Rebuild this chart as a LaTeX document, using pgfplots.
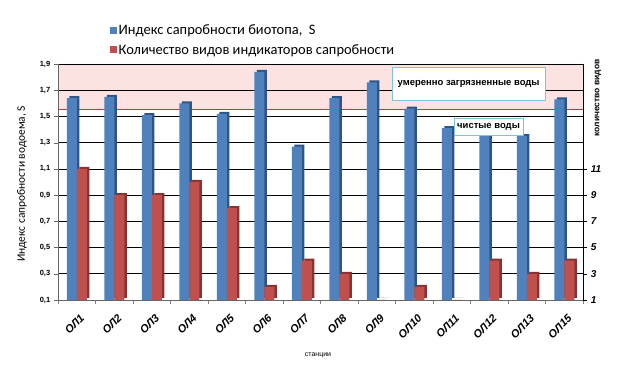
\documentclass[border=0pt]{standalone}
\usepackage{pgfplots}
\pgfplotsset{compat=1.18}
\usepackage{fontspec}
\setmainfont{Liberation Sans}
\newfontfamily\calibri{Carlito}
\definecolor{sblue}{HTML}{4F81BD}
\definecolor{sbluedk}{HTML}{2F5587}
\definecolor{sred}{HTML}{C0504D}
\definecolor{sreddk}{HTML}{8A3230}
\definecolor{bandpink}{HTML}{FDE2E2}
\definecolor{boxblue}{HTML}{7EC4D8}

\pgfplotstableread{
x S
0 1.64
1 1.65
2 1.51
3 1.60
4 1.52
5 1.84
6 1.27
7 1.64
8 1.76
9 1.56
10 1.41
11 1.35
12 1.35
13 1.63
}\sapr
\pgfplotstableread{
x N
0 11
1 9
2 9
3 10
4 8
5 2
6 4
7 3
8 1
9 2
10 1
11 4
12 3
13 4
}\vidy

\begin{document}
\begin{tikzpicture}
\path (0,0) rectangle (626bp,367bp);
% background band
\begin{axis}[
  at={(58bp,67bp)}, anchor=south west,
  scale only axis, width=525bp, height=236bp,
  xmin=-0.5, xmax=13.5, ymin=0.1, ymax=1.9,
  hide axis,
]
\addplot[fill=bandpink, draw=none] coordinates {(-0.5,1.55) (13.5,1.55) (13.5,1.9) (-0.5,1.9)} \closedcycle;
\addplot[sred!85!black, line width=0.8pt] coordinates {(-0.5,1.55) (13.5,1.55)};
\end{axis}
\begin{axis}[
  at={(58bp,67bp)}, anchor=south west,
  scale only axis, width=525bp, height=236bp,
  xmin=-0.5, xmax=13.5, ymin=0.1, ymax=1.9,
  axis y line*=left, axis x line*=bottom,
  axis line style={black!60},
  xtick={0,...,13},
  xticklabels={ОЛ1,ОЛ2,ОЛ3,ОЛ4,ОЛ5,ОЛ6,ОЛ7,ОЛ8,ОЛ9,ОЛ10,ОЛ11,ОЛ12,ОЛ13,ОЛ15},
  major x tick style={draw=none},
  minor xtick={-0.5,0.5,1.5,2.5,3.5,4.5,5.5,6.5,7.5,8.5,9.5,10.5,11.5,12.5,13.5},
  minor tick length=4bp,
  tick align=outside,
  x tick label style={rotate=45, anchor=north east, inner sep=0.5bp, yshift=-8bp, xshift=-4bp,
     font=\fontsize{11}{12}\selectfont\bfseries\itshape},
  ytick={0.1,0.3,0.5,0.7,0.9,1.1,1.3,1.5,1.7,1.9},
  yticklabel style={font=\fontsize{7.5}{8}\selectfont\bfseries,
     /pgf/number format/assume math mode=true,
     /pgf/number format/use comma, /pgf/number format/fixed,
     /pgf/number format/fixed zerofill, /pgf/number format/precision=1},
  ymajorgrids, grid style={black, line width=0.7pt},
  ytick style={black!60},
  legend style={at={(0.099,1.175)}, anchor=north west, draw=none, fill=none,
     font=\calibri\fontsize{14.5}{15}\selectfont, row sep=4bp, inner sep=0pt},
  legend cell align=left,
  legend image code/.code={\fill[#1] (0bp,-3.5bp) rectangle (6.5bp,3.5bp);},
]
\addplot[ybar, bar width=10bp, bar shift=-2.5bp, fill=sbluedk, draw=none, yshift=2bp, forget plot] table[x=x,y=S]{\sapr};
\addplot[ybar, bar width=10bp, bar shift=-5bp, fill=sblue, draw=none] table[x=x,y=S]{\sapr};
\addlegendentry{Индекс сапробности биотопа,\ \ S}
\addlegendimage{fill=sred, draw=none}
\addlegendentry{Количество видов индикаторов сапробности}
\end{axis}
\begin{axis}[
  at={(58bp,67bp)}, anchor=south west,
  scale only axis, width=525bp, height=236bp,
  xmin=-0.5, xmax=13.5, ymin=1, ymax=19,
  axis x line=none, axis y line*=right,
  axis line style={black, line width=0.8pt},
  ytick={1,3,5,7,9,11},
  tick align=outside, ytick style={black},
  yticklabel style={font=\fontsize{10}{10}\selectfont\bfseries\itshape,
     /pgf/number format/assume math mode=true},
]
\addplot[ybar, bar width=10bp, bar shift=7.5bp, fill=sreddk, draw=none, yshift=2bp] table[x=x,y=N]{\vidy};
\addplot[ybar, bar width=10bp, bar shift=5bp, fill=sred, draw=none] table[x=x,y=N]{\vidy};
\node[draw=boxblue, fill=white, line width=0.8pt, minimum width=153bp, minimum height=33bp,
  font=\fontsize{9.5}{10}\selectfont\bfseries, inner sep=1bp] at (axis cs:10.45,17.45) {умеренно загрязненные воды};
\node[draw=boxblue, fill=white, line width=0.8pt, minimum width=69bp, minimum height=17bp,
  font=\fontsize{9.5}{10}\selectfont\bfseries, inner sep=1bp] at (axis cs:10.98,14.2) {чистые воды};
\end{axis}
\node[rotate=90, font=\calibri\fontsize{11.5}{12}\selectfont] at (22bp,183bp) {Индекс сапробности водоема, S};
\node[rotate=90, font=\fontsize{8.5}{10}\selectfont\bfseries] at (598bp,269bp) {количество видов};
\node[font=\fontsize{7}{8}\selectfont] at (318bp,12bp) {станции};
\end{tikzpicture}
\end{document}
